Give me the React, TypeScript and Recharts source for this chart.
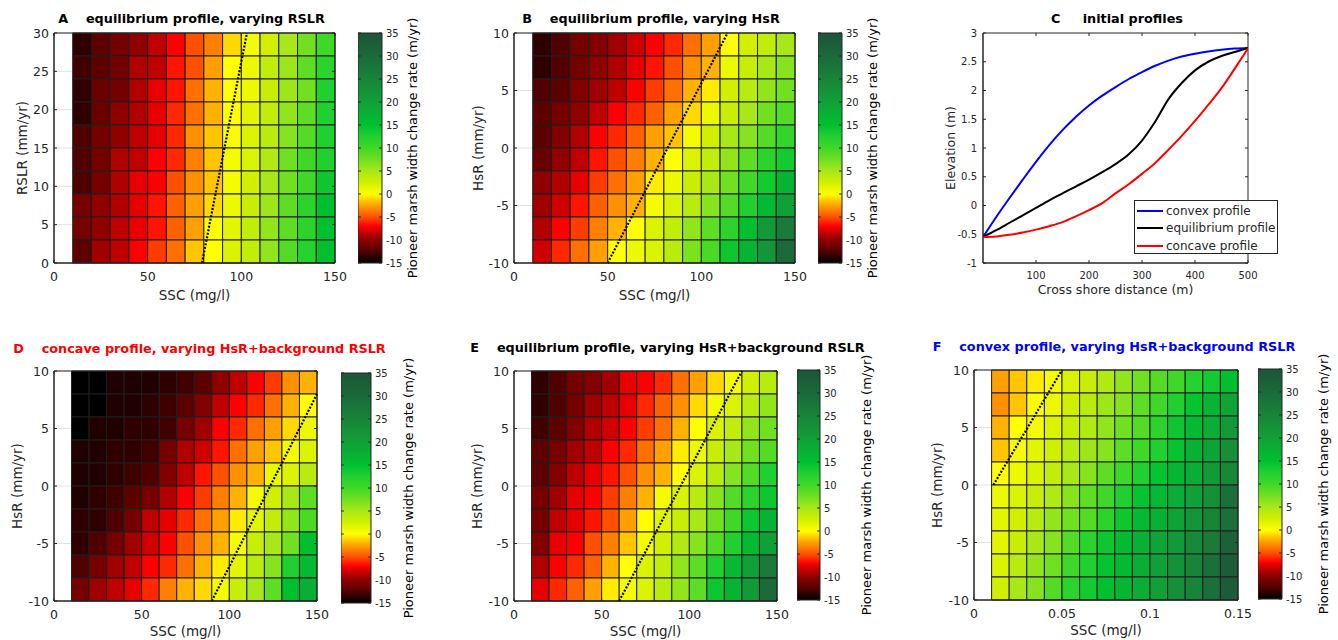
import React from "react"
import {
  CartesianGrid,
  ComposedChart,
  Legend,
  Line,
  LineChart,
  ReferenceArea,
  ReferenceLine,
  XAxis,
  YAxis,
} from "recharts"

const FONT = "'DejaVu Sans', 'Liberation Sans', sans-serif"
const INK = "#262626"

// ---------- grid edges ----------
const sscEdges = [10, 20, 30, 40, 50, 60, 70, 80, 90, 100, 110, 120, 130, 140, 150]
const sscEdgesF = [0.01, 0.02, 0.03, 0.04, 0.05, 0.06, 0.07, 0.08, 0.09, 0.1, 0.11, 0.12, 0.13, 0.14, 0.15]
const rslrEdges = [0, 3, 6, 9, 12, 15, 18, 21, 24, 27, 30]
const hsrEdges = [-10, -8, -6, -4, -2, 0, 2, 4, 6, 8, 10]

const sscTicks = [0, 50, 100, 150]
const sscTicksF = [0, 0.05, 0.1, 0.15]
const rslrTicks = [0, 5, 10, 15, 20, 25, 30]
const hsrTicks = [-10, -5, 0, 5, 10]
const rateTicks = [-15, -10, -5, 0, 5, 10, 15, 20, 25, 30, 35]

// ---------- pioneer marsh width change rate (m/yr), top row first ----------
const rateA = [
  [-13.5, -12, -11, -10, -8.5, -7, -5, -3.5, -1, 0.5, 2.5, 5, 7.5, 10],
  [-13, -12, -11, -9, -8.5, -6.5, -5, -2.5, 0, 1, 3.5, 5.5, 8.5, 11.5],
  [-13.5, -11.5, -11, -9, -7.5, -6.5, -4, -2, 0, 1, 3, 5.5, 7.5, 12.5],
  [-13.5, -11.5, -10, -9, -7.5, -6, -4, -2, 0, 1.5, 3.5, 6, 8.5, 12.5],
  [-12.5, -11, -10, -8.5, -7.5, -6, -3, -1.5, 0.3, 2, 4, 6.5, 9, 12.5],
  [-12.5, -11, -9, -8.5, -7, -6, -3.5, -1.5, 0.5, 2, 4.5, 7.5, 10, 12.5],
  [-12.5, -11, -9, -7.5, -7, -5, -3, -1.5, 0.5, 2.5, 5, 7.5, 10, 14],
  [-11, -10, -9, -7.5, -6.5, -4.5, -2.5, -1, 1, 3, 5.5, 8.5, 11.5, 15],
  [-11, -10, -8.5, -7.5, -6.5, -4.5, -2.5, 0, 1.5, 3.5, 6, 8.5, 11.5, 15],
  [-12, -9.5, -8.5, -7, -5.5, -4, -1.5, 0, 2, 3.5, 6, 9, 12, 15],
]

const rateB = [
  [-13.5, -12.5, -11, -10.5, -9.5, -8, -7, -6, -4, -2.5, 0, 2.5, 3.5, 5],
  [-13.5, -12.5, -11, -10, -9, -7.5, -6.5, -5, -3, -2, 1, 3, 5, 6.5],
  [-12.5, -12, -10.5, -9.5, -8.5, -7, -5.5, -4, -2, -0.5, 2.5, 4, 6, 7.5],
  [-12, -11, -10, -8.5, -7, -6, -4.5, -2.5, -1, 1, 3, 5, 7.5, 9],
  [-12, -10.5, -9, -7, -6, -4.5, -2.5, -1.5, 0.5, 2.5, 5, 6.5, 9, 11],
  [-11.5, -10, -8.5, -6.5, -5, -3.5, -2, 0, 2, 3.5, 6, 8.5, 11.5, 13.5],
  [-10, -9, -7.5, -5.5, -4, -2.5, -0.5, 1, 3, 5, 7.5, 10, 13.5, 17],
  [-9.5, -8, -6.5, -4.5, -3, -2, 0.5, 2, 4, 6.5, 9, 12.5, 16, 20],
  [-9, -7, -5.5, -3.5, -2, 0, 2, 3.5, 6, 8.5, 11.5, 15, 21, 27],
  [-8, -6, -4, -2.5, 0, 1, 2, 4, 7, 9.5, 14, 17, 22, 30],
]

const rateD = [
  [-15, -15, -14, -14, -14, -13.5, -13, -12, -10, -8.5, -7, -5.5, -3, -2],
  [-15, -15, -14, -14, -13.5, -13, -12, -10.5, -8.5, -7, -6, -4, -2, 0],
  [-15, -14, -14, -13.5, -13.5, -13, -11, -9.5, -7, -6, -4, -2.5, -1, 1],
  [-14, -14, -13.5, -13.5, -13, -11, -9, -8, -6.5, -4, -2.5, -1.5, 0.5, 2],
  [-14, -14, -13.5, -13, -12.5, -10.5, -8.5, -6.5, -5, -3, -2, 1, 2, 4],
  [-14, -13.5, -13, -12, -11, -9, -7, -5.5, -3.5, -2, 0.5, 2.5, 5, 8.5],
  [-13.5, -13.5, -12.5, -11, -8.5, -7.5, -6, -4, -2.5, -0.5, 1.5, 3.5, 6, 9.5],
  [-13.5, -12.5, -11, -9.5, -8, -7, -5, -3, -2, 0.5, 3, 5, 7.5, 15],
  [-12.5, -11, -9.5, -8.5, -7, -6, -4, -2, -0.5, 1.5, 4, 6.5, 12.5, 16],
  [-11, -9.5, -8.5, -7.5, -6, -3.5, -2, -1, 0.5, 3, 5, 8.5, 15, 18],
]

const rateE = [
  [-13.5, -12.5, -11, -10.5, -9.5, -7.5, -7, -6, -4, -2.5, -1, 0.5, 2.5, 4],
  [-13.5, -12.5, -11, -9.5, -8.5, -7.5, -6, -4.5, -3, -1, 0.5, 2, 4, 6],
  [-13, -12, -10.5, -9, -8, -7, -5.5, -4, -2, 0, 2, 3.5, 6, 7.5],
  [-12, -11, -9.5, -8.5, -7, -6, -4, -2.5, -0.5, 1, 3, 5, 7.5, 9],
  [-12, -10.5, -8.5, -7.5, -6.5, -5, -3, -2, 0, 2, 4, 6.5, 9, 12.5],
  [-11, -9.5, -7.5, -7, -5.5, -3.5, -2, 0.5, 2, 4, 6.5, 9, 11.5, 14],
  [-11, -8.5, -7.5, -6.5, -5, -2.5, 0, 1.5, 3, 5, 7.5, 10, 14, 17],
  [-10.5, -7.5, -7, -5, -3.5, -1.5, 0.5, 2.5, 4.5, 6.5, 9, 12.5, 16, 20],
  [-9, -7, -6, -4.5, -2, 0, 2, 3.5, 6, 8.5, 12.5, 16, 20, 27],
  [-7.5, -6, -4.5, -2.5, -0.5, 0.5, 2, 4, 6, 8.5, 14, 17, 21, 30],
]

const rateF = [
  [-2.5, -1.5, -0.5, 0.5, 2, 3, 4.5, 6, 7.5, 9, 10, 12, 13.5, 15],
  [-3, -1.5, 0, 1, 2.5, 4, 5.5, 6.5, 8.5, 10, 12.5, 14.5, 16.5, 19],
  [-2, 0, 0.5, 2, 3, 4.5, 6, 7.5, 9, 11.5, 14, 16, 18, 21],
  [-1.5, 0.5, 1.5, 2.5, 4, 5.5, 6.5, 8.5, 10, 12.5, 14.5, 17.5, 19.5, 23],
  [0, 1, 2, 3.5, 5, 6.5, 8.5, 10, 12.5, 14.5, 16.5, 18, 21, 24.5],
  [1, 2, 3, 4.5, 6.5, 8.5, 10, 12.5, 14.5, 16, 18, 20, 23, 29],
  [1.5, 2.5, 4, 6, 7.5, 9, 11.5, 14, 16, 17.5, 19.5, 22, 25, 29],
  [1.5, 3, 5, 6.5, 9, 11.5, 14, 16, 17.5, 19, 21, 24, 27, 32],
  [2, 4, 6, 7.5, 10, 12.5, 14.5, 16, 18, 20, 22.5, 25, 29, 33],
  [2.5, 5, 6.5, 9, 11.5, 13.5, 15, 16.5, 18, 20, 23, 25, 29, 33],
]

// zero-change contour (dotted)
const zeroA = [{ x: 79, y: 0 }, { x: 103, y: 30 }]
const zeroB = [{ x: 50, y: -10 }, { x: 114, y: 10 }]
const zeroD = [{ x: 90, y: -10 }, { x: 150, y: 8 }]
const zeroE = [{ x: 60, y: -10 }, { x: 130, y: 10 }]
const zeroF = [{ x: 0.011, y: 0 }, { x: 0.05, y: 10 }]

// ---------- initial profiles (panel C) ----------
const shoreX = [0, 25, 50, 75, 100, 125, 150, 175, 200, 225, 250, 275, 300, 325, 350, 375, 400, 425, 450, 475, 500]
const convexZ = [-0.55, -0.2, 0.13, 0.45, 0.76, 1.05, 1.31, 1.54, 1.74, 1.91, 2.06, 2.2, 2.32, 2.43, 2.52, 2.59, 2.64, 2.68, 2.71, 2.73, 2.74]
const equilibriumZ = [-0.55, -0.43, -0.3, -0.17, -0.04, 0.09, 0.21, 0.33, 0.45, 0.58, 0.72, 0.89, 1.13, 1.46, 1.85, 2.13, 2.35, 2.5, 2.6, 2.67, 2.74]
const concaveZ = [-0.55, -0.54, -0.51, -0.47, -0.42, -0.36, -0.29, -0.19, -0.08, 0.04, 0.21, 0.37, 0.55, 0.74, 0.97, 1.21, 1.47, 1.75, 2.04, 2.38, 2.73]
const elevTicks = [-1, -0.5, 0, 0.5, 1, 1.5, 2, 2.5, 3]
const shoreTicks = [100, 200, 300, 400, 500]
const profileOrder = ["convex profile", "equilibrium profile", "concave profile"]

const profileRows = shoreX.map((x, i) => ({
  x,
  convex: convexZ[i],
  equilibrium: equilibriumZ[i],
  concave: concaveZ[i],
}))

// ---------- colormap ----------
const cmapStops: [number, string][] = [
  [-15, "#000000"], [-12.5, "#500000"], [-10, "#900000"], [-8, "#d00000"], [-7, "#ff0000"],
  [-5, "#ff5000"], [-2.5, "#ffa000"], [0, "#ffff00"], [2.5, "#d0f000"], [5, "#a8e818"],
  [7.5, "#70e020"], [10, "#40d828"], [12.5, "#20d030"], [15, "#00c030"], [20, "#10a038"],
  [25, "#188438"], [30, "#1a6a3a"], [35, "#1c5538"],
]

function hex(c: string) {
  return [1, 3, 5].map((i) => parseInt(c.slice(i, i + 2), 16))
}

function rateColor(v: number) {
  if (v <= cmapStops[0][0]) return cmapStops[0][1]
  for (let i = 1; i < cmapStops.length; i++) {
    const [v1, c1] = cmapStops[i]
    if (v <= v1) {
      const [v0, c0] = cmapStops[i - 1]
      const t = (v - v0) / (v1 - v0)
      const a = hex(c0)
      const b = hex(c1)
      const m = a.map((x, k) => Math.round(x + (b[k] - x) * t))
      return `rgb(${m[0]},${m[1]},${m[2]})`
    }
  }
  return cmapStops[cmapStops.length - 1][1]
}

const TICK_LEN = 3

// bottom axis tick: label plus inward marks on bottom and top edges
function bottomTick(gap: number, plotH: number, fontSize: number) {
  return (props: any) => {
    const { x, y, payload } = props
    const ay = y - gap
    return (
      <g>
        <line x1={x} y1={ay} x2={x} y2={ay - TICK_LEN} stroke={INK} />
        <line x1={x} y1={ay - plotH} x2={x} y2={ay - plotH + TICK_LEN} stroke={INK} />
        <text x={x} y={y} dy="0.72em" textAnchor="middle" fill={INK} fontSize={fontSize} fontFamily={FONT}>
          {String(payload.value)}
        </text>
      </g>
    )
  }
}

// left axis tick: label plus inward marks on left and right edges
function leftTick(gap: number, plotW: number, fontSize: number) {
  return (props: any) => {
    const { x, y, payload } = props
    const ax = x + gap
    return (
      <g>
        <line x1={ax} y1={y} x2={ax + TICK_LEN} y2={y} stroke={INK} />
        <line x1={ax + plotW} y1={y} x2={ax + plotW - TICK_LEN} y2={y} stroke={INK} />
        <text x={x} y={y} dy="0.36em" textAnchor="end" fill={INK} fontSize={fontSize} fontFamily={FONT}>
          {String(payload.value)}
        </text>
      </g>
    )
  }
}

// colorbar tick on the right axis: marks on both edges of the bar
function colorbarTick(gap: number, barW: number) {
  return (props: any) => {
    const { x, y, payload } = props
    const ax = x - gap
    return (
      <g>
        <line x1={ax} y1={y} x2={ax - TICK_LEN} y2={y} stroke={INK} />
        <line x1={ax - barW} y1={y} x2={ax - barW + TICK_LEN} y2={y} stroke={INK} />
        <text x={x} y={y} dy="0.36em" textAnchor="start" fill={INK} fontSize={10} fontFamily={FONT}>
          {String(payload.value)}
        </text>
      </g>
    )
  }
}

const labelStyle = { fill: INK, fontSize: 13.5, fontFamily: FONT }

function PanelTitle({ cx, baseline, text, color = "#000" }: { cx: number; baseline: number; text: string; color?: string }) {
  return (
    <div
      style={{
        position: "absolute",
        left: cx - 300,
        width: 600,
        top: baseline - 11,
        lineHeight: "13px",
        textAlign: "center",
        whiteSpace: "pre",
        fontFamily: FONT,
        fontWeight: "bold",
        fontSize: 12.8,
        color,
      }}
    >
      {text}
    </div>
  )
}

interface HeatProps {
  left: number
  top: number
  width: number
  height: number
  values: number[][]
  xEdges: number[]
  yEdges: number[]
  xDomain: [number, number]
  yDomain: [number, number]
  xTicks: number[]
  yTicks: number[]
  yLabel: string
  yLabelOffset: number
  xLabelOffset: number
  zero: { x: number; y: number }[]
}

function Heatmap(p: HeatProps) {
  const YW = 50
  const MT = 8
  const MR = 22
  const XH = 42
  const n = p.values.length
  return (
    <div style={{ position: "absolute", left: p.left - YW, top: p.top - MT }}>
      <ComposedChart
        width={YW + p.width + MR}
        height={MT + p.height + XH}
        margin={{ top: MT, right: MR, bottom: 0, left: 0 }}
      >
        <CartesianGrid stroke="#e2e2e2" />
        <XAxis
          type="number"
          dataKey="x"
          domain={p.xDomain}
          ticks={p.xTicks}
          allowDataOverflow
          interval={0}
          height={XH}
          tickSize={0}
          tickMargin={9}
          axisLine={{ stroke: INK }}
          tick={bottomTick(9, p.height, 12.5)}
          label={{ value: "SSC (mg/l)", position: "insideBottom", offset: p.xLabelOffset, ...labelStyle }}
        />
        <YAxis
          type="number"
          dataKey="y"
          domain={p.yDomain}
          ticks={p.yTicks}
          allowDataOverflow
          interval={0}
          width={YW}
          tickSize={0}
          tickMargin={5}
          axisLine={{ stroke: INK }}
          tick={leftTick(5, p.width, 12.5)}
          label={{
            value: p.yLabel,
            angle: -90,
            position: "insideLeft",
            offset: p.yLabelOffset,
            style: { textAnchor: "middle" },
            ...labelStyle,
          }}
        />
        {p.values.map((row, i) =>
          row.map((v, j) => (
            <ReferenceArea
              key={`${i}-${j}`}
              x1={p.xEdges[j]}
              x2={p.xEdges[j + 1]}
              y1={p.yEdges[n - 1 - i]}
              y2={p.yEdges[n - i]}
              fill={rateColor(v)}
              fillOpacity={1}
              stroke="#1e1e1e"
              strokeWidth={1}
            />
          ))
        )}
        <ReferenceLine segment={p.zero} stroke="#000" strokeWidth={2.2} strokeDasharray="2 1.6" />
        <ReferenceArea
          x1={p.xDomain[0]}
          x2={p.xDomain[1]}
          y1={p.yDomain[0]}
          y2={p.yDomain[1]}
          fill="none"
          stroke={INK}
          strokeWidth={1}
        />
      </ComposedChart>
    </div>
  )
}

function Colorbar({ id, left, top, width, height, labelOffset }: { id: string; left: number; top: number; width: number; height: number; labelOffset: number }) {
  const MT = 40
  const AW = 55
  return (
    <div style={{ position: "absolute", left, top: top - MT }}>
      <ComposedChart width={width + AW} height={height + 2 * MT} margin={{ top: MT, bottom: MT, left: 0, right: 0 }}>
        <defs>
          <linearGradient id={id} x1="0" y1="1" x2="0" y2="0">
            {cmapStops.map(([v, c]) => (
              <stop key={v} offset={`${((v + 15) / 50) * 100}%`} stopColor={c} />
            ))}
          </linearGradient>
        </defs>
        <XAxis type="number" dataKey="x" domain={[0, 1]} hide allowDataOverflow />
        <YAxis
          type="number"
          dataKey="y"
          orientation="right"
          domain={[-15, 35]}
          ticks={rateTicks}
          allowDataOverflow
          interval={0}
          width={AW}
          tickSize={0}
          tickMargin={4}
          axisLine={false}
          tick={colorbarTick(4, width)}
          label={{
            value: "Pioneer marsh width change rate (m/yr)",
            angle: -90,
            position: "insideRight",
            offset: labelOffset,
            style: { textAnchor: "middle" },
            fill: "#000",
            fontSize: 13,
            fontFamily: FONT,
          }}
        />
        <ReferenceArea x1={0} x2={1} y1={-15} y2={35} fill={`url(#${id})`} fillOpacity={1} stroke={INK} strokeWidth={1} />
      </ComposedChart>
    </div>
  )
}

function ProfileLegend(props: any) {
  const items = [...(props.payload ?? [])].sort(
    (a: any, b: any) => profileOrder.indexOf(a.value) - profileOrder.indexOf(b.value)
  )
  return (
    <div
      style={{
        border: `1px solid ${INK}`,
        background: "#fff",
        width: 144,
        height: 54,
        boxSizing: "border-box",
        paddingTop: 1,
        fontFamily: FONT,
        fontSize: 12,
        color: INK,
      }}
    >
      {items.map((it: any) => (
        <div key={it.value} style={{ display: "flex", alignItems: "center", height: 17.5 }}>
          <svg width={30} height={4} style={{ flex: "none" }}>
            <line x1={2} y1={2} x2={28} y2={2} stroke={it.color} strokeWidth={2} />
          </svg>
          <span style={{ marginLeft: 1, whiteSpace: "nowrap" }}>{it.value}</span>
        </div>
      ))}
    </div>
  )
}

function ProfilesPanel() {
  const YW = 50
  const MT = 8
  const MR = 14
  const XH = 42
  const plotLeft = 983
  const plotTop = 33
  const w = 265
  const h = 230
  const left = plotLeft - YW
  const top = plotTop - MT
  return (
    <div style={{ position: "absolute", left, top }}>
      <LineChart width={YW + w + MR} height={MT + h + XH} data={profileRows} margin={{ top: MT, right: MR, bottom: 0, left: 0 }}>
        <XAxis
          type="number"
          dataKey="x"
          domain={[0, 500]}
          ticks={shoreTicks}
          allowDataOverflow
          interval={0}
          height={XH}
          tickSize={0}
          tickMargin={9}
          axisLine={{ stroke: INK }}
          tick={bottomTick(9, h, 10)}
          label={{ value: "Cross shore distance (m)", position: "insideBottom", offset: 11, fill: INK, fontSize: 12.5, fontFamily: FONT }}
        />
        <YAxis
          type="number"
          domain={[-1, 3]}
          ticks={elevTicks}
          allowDataOverflow
          interval={0}
          width={YW}
          tickSize={0}
          tickMargin={6}
          axisLine={{ stroke: INK }}
          tick={leftTick(6, w, 10)}
          label={{
            value: "Elevation (m)",
            angle: -90,
            position: "insideLeft",
            offset: 18,
            style: { textAnchor: "middle" },
            fill: INK,
            fontSize: 12.5,
            fontFamily: FONT,
          }}
        />
        <ReferenceArea x1={0} x2={500} y1={-1} y2={3} fill="none" stroke={INK} strokeWidth={1} />
        <Line dataKey="convex" name="convex profile" type="monotone" stroke="#0000ff" strokeWidth={2} dot={false} legendType="plainline" isAnimationActive={false} />
        <Line dataKey="equilibrium" name="equilibrium profile" type="monotone" stroke="#000000" strokeWidth={2} dot={false} legendType="plainline" isAnimationActive={false} />
        <Line dataKey="concave" name="concave profile" type="monotone" stroke="#ff0000" strokeWidth={2} dot={false} legendType="plainline" isAnimationActive={false} />
        <Legend
          layout="vertical"
          align="center"
          verticalAlign="middle"
          content={<ProfileLegend />}
          wrapperStyle={{ left: 1134 - left, top: 200 - top, width: 144 }}
        />
      </LineChart>
    </div>
  )
}

export default function App() {
  return (
    <div
      style={{
        position: "absolute",
        left: 0,
        top: 0,
        width: 1338,
        height: 640,
        background: "#fff",
        overflow: "hidden",
        fontFamily: FONT,
      }}
    >
      <PanelTitle cx={191.5} baseline={23} text="A    equilibrium profile, varying RSLR" />
      <PanelTitle cx={651} baseline={23} text="B    equilibrium profile, varying HsR" />
      <PanelTitle cx={1117} baseline={23} text="C     initial profiles" />
      <PanelTitle cx={199.5} baseline={352.5} text="D    concave profile, varying HsR+background RSLR" color="#ff0000" />
      <PanelTitle cx={667.5} baseline={351.5} text="E    equilibrium profile, varying HsR+background RSLR" />
      <PanelTitle cx={1114} baseline={350.5} text="F    convex profile, varying HsR+background RSLR" color="#0000ff" />

      <Heatmap left={54} top={33} width={281} height={230} values={rateA} xEdges={sscEdges} yEdges={rslrEdges}
        xDomain={[0, 150]} yDomain={[0, 30]} xTicks={sscTicks} yTicks={rslrTicks}
        yLabel="RSLR (mm/yr)" yLabelOffset={18} xLabelOffset={5} zero={zeroA} />
      <Colorbar id="cbA" left={358} top={33} width={24} height={230} labelOffset={25} />

      <Heatmap left={514} top={33} width={281} height={230} values={rateB} xEdges={sscEdges} yEdges={hsrEdges}
        xDomain={[0, 150]} yDomain={[-10, 10]} xTicks={sscTicks} yTicks={hsrTicks}
        yLabel="HsR (mm/yr)" yLabelOffset={14} xLabelOffset={5} zero={zeroB} />
      <Colorbar id="cbB" left={818} top={33} width={24} height={230} labelOffset={25} />

      <ProfilesPanel />

      <Heatmap left={54} top={371} width={263} height={230} values={rateD} xEdges={sscEdges} yEdges={hsrEdges}
        xDomain={[0, 150]} yDomain={[-10, 10]} xTicks={sscTicks} yTicks={hsrTicks}
        yLabel="HsR (mm/yr)" yLabelOffset={13} xLabelOffset={7} zero={zeroD} />
      <Colorbar id="cbD" left={341} top={373} width={30} height={230} labelOffset={18} />

      <Heatmap left={514} top={371} width={263} height={230} values={rateE} xEdges={sscEdges} yEdges={hsrEdges}
        xDomain={[0, 150]} yDomain={[-10, 10]} xTicks={sscTicks} yTicks={hsrTicks}
        yLabel="HsR (mm/yr)" yLabelOffset={13} xLabelOffset={7} zero={zeroE} />
      <Colorbar id="cbE" left={797} top={370} width={23} height={230} labelOffset={9} />

      <Heatmap left={974} top={370} width={264} height={230} values={rateF} xEdges={sscEdgesF} yEdges={hsrEdges}
        xDomain={[0, 0.15]} yDomain={[-10, 10]} xTicks={sscTicksF} yTicks={hsrTicks}
        yLabel="HsR (mm/yr)" yLabelOffset={13} xLabelOffset={7} zero={zeroF} />
      <Colorbar id="cbF" left={1258} top={369} width={24} height={230} labelOffset={14} />
    </div>
  )
}
